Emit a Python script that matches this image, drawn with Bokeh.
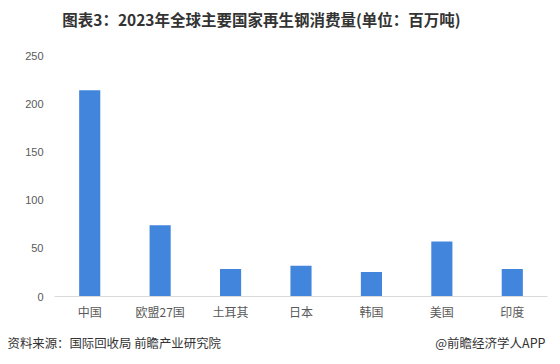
from bokeh.plotting import figure
from bokeh.layouts import column
from bokeh.models import Range1d, FixedTicker
from bokeh.core.properties import value
from bokeh.embed import file_html
from bokeh.resources import INLINE

categories = ["中国", "欧盟27国", "土耳其", "日本", "韩国", "美国", "印度"]
values = [214, 74, 28.5, 32, 25.5, 57, 28.5]
y_ticks = [0, 50, 100, 150, 200, 250]

title_text = "图表3：2023年全球主要国家再生钢消费量(单位：百万吨)"
source_text = "资料来源：国际回收局 前瞻产业研究院"
brand_text = "@前瞻经济学人APP"

CJK = "Noto Sans CJK SC"
W = 556
HEAD_H, MAIN_H, FOOT_H = 40, 286, 30


def text_panel(h):
    f = figure(width=W, height=h, x_range=Range1d(0, W), y_range=Range1d(0, h),
               output_backend="svg", toolbar_location=None,
               x_axis_location=None, y_axis_location=None,
               min_border=0, min_border_left=0, min_border_right=0,
               min_border_top=0, min_border_bottom=0, frame_align=False)
    f.outline_line_color = None
    f.xgrid.grid_line_color = None
    f.ygrid.grid_line_color = None
    f.background_fill_color = "white"
    f.border_fill_color = "white"
    return f


# header
head = text_panel(HEAD_H)
head.text(x=[261], y=[HEAD_H - 18], text=[title_text], text_align="center",
          text_baseline="middle", text_font=value(CJK), text_font_size="15.5px",
          text_font_style="bold", text_color="#333333")

# main chart
p = figure(width=W, height=MAIN_H, x_range=categories, y_range=Range1d(0, 250),
           output_backend="svg", toolbar_location=None, frame_align=False,
           min_border_left=54, min_border_right=W - 547, min_border_top=15, min_border_bottom=30)
p.x_range.range_padding = 0
p.outline_line_color = None
p.xgrid.grid_line_color = None
p.ygrid.grid_line_color = None
p.background_fill_color = "white"
p.border_fill_color = "white"

p.vbar(x=categories, top=values, width=0.3, color="#4285DC", line_color=None)

p.yaxis.ticker = FixedTicker(ticks=y_ticks)
p.yaxis.axis_line_color = None
p.yaxis.major_tick_line_color = None
p.yaxis.minor_tick_line_color = None
p.yaxis.major_tick_out = 0
p.yaxis.major_tick_in = 0
p.yaxis.minor_tick_out = 0
p.yaxis.major_label_text_font = "Liberation Sans"
p.yaxis.major_label_text_font_size = "11px"
p.yaxis.major_label_text_color = "#595959"
p.yaxis.major_label_standoff = 11

p.xaxis.axis_line_color = "#D9D9D9"
p.xaxis.axis_line_width = 1
p.xaxis.major_tick_line_color = None
p.xaxis.minor_tick_line_color = None
p.xaxis.major_tick_out = 0
p.xaxis.major_tick_in = 0
p.xaxis.minor_tick_out = 0
p.xaxis.major_label_text_font = CJK
p.xaxis.major_label_text_font_size = "12px"
p.xaxis.major_label_text_color = "#595959"
p.xaxis.major_label_standoff = 6

# footer
foot = text_panel(FOOT_H)
foot.text(x=[7], y=[FOOT_H - 16], text=[source_text], text_align="left",
          text_baseline="middle", text_font=value(CJK), text_font_size="12.4px",
          text_color="#333333")
foot.text(x=[545], y=[FOOT_H - 16], text=[brand_text], text_align="right",
          text_baseline="middle", text_font=value(CJK), text_font_size="12.5px",
          text_color="#333333")

layout = column(head, p, foot, spacing=0)
open("out.html", "w").write(file_html(layout, INLINE))
